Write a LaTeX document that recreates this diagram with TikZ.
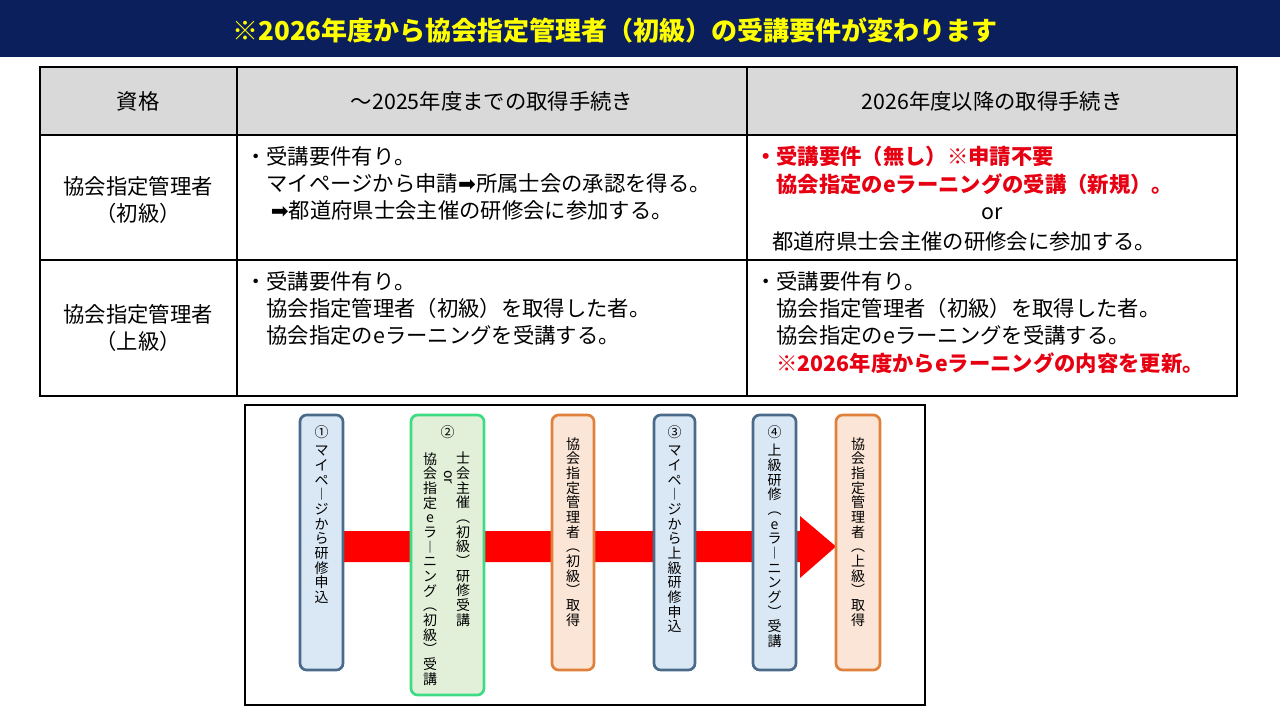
\documentclass[tikz,border=0pt]{standalone}
\usepackage{fontspec}
\setmainfont{Noto Sans CJK JP}
\newfontfamily\symfont{DejaVu Sans}
\usetikzlibrary{positioning}
\definecolor{navy}{HTML}{0A1F5C}
\definecolor{titleyel}{HTML}{FFFF00}
\definecolor{headgray}{HTML}{D9D9D9}
\definecolor{bluefill}{HTML}{DAE8F5}
\definecolor{blueline}{HTML}{4A6A8A}
\definecolor{greenfill}{HTML}{E2F0D9}
\definecolor{greenline}{HTML}{3DDC84}
\definecolor{orfill}{HTML}{FBE5D6}
\definecolor{orline}{HTML}{E0803A}
\definecolor{redtxt}{HTML}{E60012}
\newcommand{\arr}{{\symfont ➡}}
\tikzset{
  cell/.style={font=\fontsize{16}{20.5}\selectfont, inner sep=0pt, align=left, anchor=north west},
  headcell/.style={font=\fontsize{16}{20}\selectfont, inner sep=0pt},
  stepbox/.style={draw, line width=2pt, rounded corners=5pt},
  vtext/.style={font=\fontsize{10.5}{11}\selectfont, inner sep=0pt, align=center, anchor=north}
}
\begin{document}
\begin{tikzpicture}[x=0.75pt,y=-0.75pt]
\useasboundingbox (0,0) rectangle (1280,720);
% title bar
\fill[navy] (0,0) rectangle (1280,57);
\node[font=\fontsize{19.5}{22}\selectfont\bfseries, text=titleyel] (title) at (615,30) {※2026年度から協会指定管理者（初級）の受講要件が変わります};
% table
\fill[headgray] (40,67) rectangle (1237,135);
\draw[line width=0.8pt] (40,67) rectangle (1237,396);
\foreach \y in {135,260} \draw[line width=0.8pt] (40,\y) -- (1237,\y);
\foreach \x in {237,747} \draw[line width=0.8pt] (\x,67) -- (\x,396);
\node[headcell] (h1) at (138,101) {資格};
\node[headcell] (h2) at (492,101) {～2025年度までの取得手続き};
\node[headcell] (h3) at (992,101) {2026年度以降の取得手続き};
\node[headcell, align=center, font=\fontsize{16}{20}\selectfont] (q1) at (138,200) {協会指定管理者\\（初級）};
\node[headcell, align=center, font=\fontsize{16}{20}\selectfont] (q2) at (138,328) {協会指定管理者\\（上級）};
\node[cell] (c21) at (245,146) {・受講要件有り。\\\hspace{1em}マイページから申請\arr 所属士会の承認を得る。\\\hspace{1.2em}\arr 都道府県士会主催の研修会に参加する。};
\node[cell, text=redtxt, font=\fontsize{16}{20.5}\selectfont\bfseries] (c31) at (755,146) {・受講要件（無し）※申請不要\\\hspace{1em}協会指定のeラーニングの受講（新規）。};
\node[headcell] (or1) at (992,214) {or};
\node[cell] (c31b) at (772,231) {都道府県士会主催の研修会に参加する。};
\node[cell] (c22) at (245,271) {・受講要件有り。\\\hspace{1em}協会指定管理者（初級）を取得した者。\\\hspace{1em}協会指定のeラーニングを受講する。};
\node[cell] (c32) at (755,271) {・受講要件有り。\\\hspace{1em}協会指定管理者（初級）を取得した者。\\\hspace{1em}協会指定のeラーニングを受講する。\\\hspace{1em}{\color{redtxt}\bfseries ※2026年度からeラーニングの内容を更新。}};
% flow
\draw[line width=2pt] (245,405) rectangle (925,705);
\fill[red] (343,531) -- (800,531) -- (800,516) -- (836,546.5) -- (800,578) -- (800,562) -- (343,562) -- cycle;
\draw[stepbox, fill=bluefill, draw=blueline] (300,415) rectangle (343,670);
\draw[stepbox, fill=greenfill, draw=greenline] (411,415) rectangle (484,695);
\draw[stepbox, fill=orfill, draw=orline] (552,415) rectangle (594,670);
\draw[stepbox, fill=bluefill, draw=blueline] (654,415) rectangle (695,670);
\draw[stepbox, fill=bluefill, draw=blueline] (753,415) rectangle (796,670);
\draw[stepbox, fill=orfill, draw=orline] (836,415) rectangle (880,670);
\node[vtext] (s1) at (321.5,425) {①\\[3pt]マ\\イ\\ペ\\︱\\ジ\\か\\ら\\研\\修\\申\\込};
\node[vtext] (s2n) at (447.5,425) {②};
\node[vtext] (s2a) at (463,452) {士\\会\\主\\催\\︵\\初\\級\\︶\\研\\修\\受\\講};
\node[vtext, rotate=-90, anchor=center] (s2or) at (448,477) {or};
\node[vtext] (s2b) at (430,452) {協\\会\\指\\定\\e\\ラ\\︱\\ニ\\ン\\グ\\︵\\初\\級\\︶\\受\\講};
\node[vtext] (s3) at (573,437) {協\\会\\指\\定\\管\\理\\者\\︵\\初\\級\\︶\\取\\得};
\node[vtext] (s4) at (674.5,425) {③\\[3pt]マ\\イ\\ペ\\︱\\ジ\\か\\ら\\上\\級\\研\\修\\申\\込};
\node[vtext] (s5) at (774.5,425) {④\\[3pt]上\\級\\研\\修\\︵\\e\\ラ\\︱\\ニ\\ン\\グ\\︶\\受\\講};
\node[vtext] (s6) at (858,437) {協\\会\\指\\定\\管\\理\\者\\︵\\上\\級\\︶\\取\\得};
\end{tikzpicture}
\end{document}
